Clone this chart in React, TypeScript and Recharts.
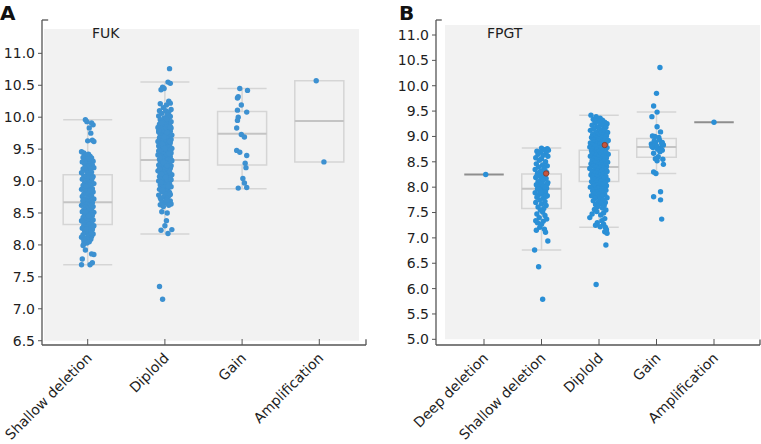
import React from 'react';
import { ComposedChart, Scatter, XAxis, YAxis, ReferenceArea, ReferenceLine } from 'recharts';

const FONT = '"DejaVu Sans", Verdana, sans-serif';

// ---------- Panel A: FUK ----------
const A_CATEGORIES = ['Shallow deletion', 'Diplold', 'Gain', 'Amplification'];
const A_TICKS = [6.5, 7.0, 7.5, 8.0, 8.5, 9.0, 9.5, 10.0, 10.5, 11.0];
const A_LOW = [7.69, 8.17, 8.88, 9.3];
const A_Q1 = [8.32, 9.0, 9.25, 9.3];
const A_MED = [8.67, 9.33, 9.74, 9.94];
const A_Q3 = [9.1, 9.68, 10.09, 10.57];
const A_HIGH = [9.96, 10.55, 10.45, 10.57];

// [jitter offset (category units), expression value]
const A_SHALLOW = [
  [-0.03, 9.96], [-0.01, 9.93], [0.05, 9.91], [0.07, 9.88], [0.02, 9.83], [0.04, 9.75], [0.06, 9.64], [0.0, 9.63], [0.08, 9.62],
  [-0.08, 9.46], [-0.05, 9.44], [0.01, 9.42], [-0.02, 9.41], [0.03, 9.39], [-0.06, 9.37], [0.05, 9.36], [-0.03, 9.34], [0.0, 9.33],
  [0.07, 9.31], [-0.07, 9.3], [0.02, 9.28], [-0.04, 9.27], [0.06, 9.25], [0.01, 9.24], [-0.01, 9.22], [0.08, 9.21], [-0.06, 9.19],
  [0.03, 9.18], [-0.02, 9.16], [0.05, 9.14], [-0.08, 9.13], [0.0, 9.12], [0.04, 9.1], [-0.05, 9.08], [0.07, 9.07], [-0.03, 9.06],
  [0.02, 9.04], [-0.07, 9.03], [0.05, 9.01], [-0.01, 9.0], [0.03, 8.98], [-0.04, 8.97], [0.08, 8.96], [0.0, 8.94], [-0.06, 8.93],
  [0.04, 8.91], [-0.02, 8.9], [0.06, 8.88], [-0.08, 8.87], [0.01, 8.86], [-0.03, 8.84], [0.07, 8.83], [0.03, 8.81], [-0.05, 8.8],
  [0.0, 8.79], [0.05, 8.77], [-0.07, 8.76], [0.02, 8.75], [-0.01, 8.73], [0.08, 8.72], [-0.04, 8.71], [0.04, 8.69], [-0.06, 8.68],
  [0.01, 8.67], [0.06, 8.66], [-0.02, 8.64], [0.03, 8.63], [-0.08, 8.62], [0.07, 8.6], [-0.03, 8.59], [0.0, 8.58], [0.05, 8.56],
  [-0.05, 8.55], [0.02, 8.54], [-0.07, 8.52], [0.08, 8.51], [-0.01, 8.5], [0.04, 8.48], [-0.04, 8.47], [0.06, 8.46], [0.0, 8.44],
  [-0.06, 8.43], [0.03, 8.42], [-0.02, 8.4], [0.07, 8.39], [-0.08, 8.38], [0.01, 8.36], [0.05, 8.35], [-0.03, 8.34], [0.02, 8.32],
  [-0.05, 8.31], [0.08, 8.3], [-0.01, 8.28], [0.04, 8.27], [-0.07, 8.26], [0.06, 8.24], [0.0, 8.23], [-0.04, 8.22], [0.03, 8.2],
  [-0.02, 8.19], [0.07, 8.17], [-0.06, 8.16], [0.01, 8.15], [0.05, 8.13], [-0.08, 8.12], [-0.03, 8.1], [0.04, 8.09], [0.0, 8.08],
  [-0.05, 8.07], [0.02, 8.05], [-0.01, 8.03],
  [0.02, 9.35], [-0.04, 9.2], [0.06, 9.05], [-0.02, 8.92], [0.03, 8.85], [-0.06, 8.7], [0.05, 8.61], [-0.03, 8.52], [0.01, 8.45],
  [-0.07, 8.37], [0.07, 8.29], [-0.02, 8.25], [0.05, 8.18], [-0.05, 8.02],
  [-0.06, 7.99], [-0.03, 7.92], [-0.07, 7.78], [0.05, 7.86], [0.08, 7.85], [-0.08, 7.69], [0.03, 7.69], [0.06, 7.72],
];

const A_DIPLOID = [
  [0.06, 10.76], [0.04, 10.55], [0.07, 10.53], [-0.03, 10.47], [-0.05, 10.43], [-0.01, 10.45],
  [0.05, 10.25], [0.07, 10.22], [-0.06, 10.21], [0.02, 10.19], [-0.02, 10.15], [0.08, 10.12], [-0.07, 10.1], [0.01, 10.1],
  [0.05, 10.08], [-0.04, 10.06], [0.03, 10.04], [-0.08, 10.02], [0.07, 10.01], [-0.01, 9.99], [0.04, 9.98],
  [-0.06, 9.96], [0.02, 9.95], [0.08, 9.93], [-0.03, 9.92], [0.05, 9.9], [-0.07, 9.89], [0.0, 9.88], [0.06, 9.87], [-0.04, 9.86],
  [0.03, 9.85], [-0.09, 9.84], [0.08, 9.83], [-0.01, 9.82], [0.04, 9.81], [-0.05, 9.8], [0.01, 9.79], [0.07, 9.78], [-0.08, 9.77],
  [-0.02, 9.76], [0.05, 9.75], [0.02, 9.74], [-0.06, 9.73], [0.09, 9.72], [-0.03, 9.71], [0.0, 9.7], [0.06, 9.69],
  [-0.07, 9.68], [0.03, 9.67], [-0.01, 9.66], [0.08, 9.65], [-0.04, 9.64], [0.05, 9.63], [-0.09, 9.62], [0.01, 9.61], [0.07, 9.6],
  [-0.05, 9.59], [0.02, 9.58], [-0.02, 9.57], [0.06, 9.56], [-0.08, 9.55], [0.04, 9.54], [0.0, 9.53], [-0.06, 9.52], [0.09, 9.51],
  [-0.03, 9.5], [0.03, 9.49], [-0.07, 9.48], [0.06, 9.47], [0.01, 9.46], [-0.04, 9.45], [0.08, 9.44], [-0.01, 9.43], [0.04, 9.42],
  [-0.09, 9.41], [0.02, 9.4], [-0.05, 9.39], [0.07, 9.38], [0.0, 9.37], [-0.03, 9.36], [0.05, 9.35], [-0.07, 9.34], [0.03, 9.33],
  [0.09, 9.32], [-0.02, 9.31], [-0.06, 9.3], [0.06, 9.29], [0.01, 9.28], [-0.04, 9.27], [0.04, 9.26], [-0.08, 9.25], [0.08, 9.24],
  [-0.01, 9.23], [0.02, 9.22], [-0.05, 9.21], [0.07, 9.2], [-0.03, 9.19], [0.0, 9.18], [0.05, 9.17], [-0.09, 9.16], [0.03, 9.15],
  [-0.02, 9.14], [0.06, 9.13], [-0.06, 9.12], [0.01, 9.11], [0.09, 9.1], [-0.04, 9.09], [0.04, 9.08], [-0.07, 9.07], [0.02, 9.06],
  [-0.01, 9.05], [0.07, 9.04], [-0.05, 9.03], [0.0, 9.02], [0.05, 9.01], [-0.08, 9.0], [0.03, 8.99],
  [-0.03, 8.97], [0.06, 8.96], [-0.06, 8.94], [0.01, 8.93], [0.08, 8.91], [-0.02, 8.9], [0.04, 8.88], [-0.07, 8.87], [0.02, 8.85],
  [-0.04, 8.83], [0.06, 8.82], [0.0, 8.8], [-0.08, 8.78], [0.05, 8.77], [-0.01, 8.75], [0.03, 8.73], [-0.05, 8.71], [0.07, 8.69],
  [-0.03, 8.67], [0.01, 8.66], [0.08, 8.64], [-0.06, 8.63], [0.04, 8.65],
  [0.02, 9.97], [-0.05, 9.91], [0.07, 9.85], [-0.08, 9.79], [0.03, 9.76], [-0.01, 9.69], [0.06, 9.62], [-0.03, 9.58], [0.0, 9.51],
  [-0.08, 9.47], [0.05, 9.43], [-0.06, 9.37], [0.08, 9.33], [-0.02, 9.29], [0.03, 9.24], [-0.07, 9.19], [0.06, 9.15], [-0.04, 9.11],
  [0.01, 9.06], [0.08, 9.02], [-0.05, 8.98], [0.04, 8.92], [-0.03, 8.86], [0.07, 8.79], [-0.06, 8.74], [0.02, 8.7],
  [-0.02, 8.6], [0.05, 8.62], [-0.04, 8.52], [0.03, 8.5], [0.02, 8.38], [0.0, 8.3], [-0.05, 8.23], [0.09, 8.24], [0.04, 8.18],
  [-0.07, 7.35], [-0.03, 7.15],
];

const A_GAIN = [
  [-0.03, 10.45], [0.07, 10.42], [-0.05, 10.32], [-0.06, 10.3], [-0.01, 10.19], [-0.06, 10.11], [0.06, 10.08], [-0.05, 10.0],
  [-0.06, 9.95], [-0.07, 9.83], [-0.01, 9.73], [0.03, 9.69], [-0.07, 9.48], [-0.03, 9.45], [0.06, 9.4], [0.04, 9.28], [0.05, 9.21],
  [0.01, 9.04], [0.03, 8.97], [-0.05, 8.89], [0.06, 8.9],
];

const A_AMP = [[-0.04, 10.57], [0.06, 9.3]];

// ---------- Panel B: FPGT ----------
const B_CATEGORIES = ['Deep deletion', 'Shallow deletion', 'Diplold', 'Gain', 'Amplification'];
const B_TICKS = [5.0, 5.5, 6.0, 6.5, 7.0, 7.5, 8.0, 8.5, 9.0, 9.5, 10.0, 10.5, 11.0];
const B_LOW = [8.25, 6.76, 7.21, 8.27, 9.28];
const B_Q1 = [8.25, 7.58, 8.11, 8.59, 9.28];
const B_MED = [8.25, 7.97, 8.4, 8.79, 9.28];
const B_Q3 = [8.25, 8.26, 8.73, 8.96, 9.28];
const B_HIGH = [8.25, 8.77, 9.42, 9.48, 9.28];

const B_DEEP = [[0.03, 8.25]];

const B_SHALLOW = [
  [0.0, 8.77], [0.1, 8.76], [0.05, 8.74], [-0.08, 8.71], [0.12, 8.73], [-0.02, 8.69], [0.08, 8.68], [-0.06, 8.65], [0.03, 8.63],
  [0.11, 8.61], [-0.1, 8.58], [0.0, 8.56], [-0.04, 8.53], [0.07, 8.5], [-0.09, 8.46], [0.02, 8.44], [0.1, 8.42], [-0.05, 8.4],
  [0.04, 8.37], [-0.11, 8.35], [0.06, 8.33], [-0.02, 8.31], [0.09, 8.29], [-0.07, 8.27], [0.01, 8.25], [-0.03, 8.23], [0.05, 8.21],
  [-0.1, 8.19], [0.08, 8.17], [-0.01, 8.15], [0.03, 8.13], [-0.06, 8.11], [0.11, 8.09], [0.0, 8.07], [-0.09, 8.05], [0.06, 8.03],
  [-0.04, 8.01], [0.02, 7.99], [0.09, 7.98], [-0.07, 7.97], [0.04, 7.95], [-0.02, 7.93], [0.07, 7.91], [-0.11, 7.89], [0.01, 7.87],
  [-0.05, 7.85], [0.1, 7.83], [-0.08, 7.8], [0.03, 7.78], [-0.03, 7.75], [0.06, 7.72], [-0.1, 7.7], [0.0, 7.67], [0.08, 7.64],
  [-0.06, 7.61], [0.04, 7.58], [-0.02, 7.55], [0.02, 7.51], [-0.08, 7.47], [0.06, 7.44], [-0.04, 7.4], [0.09, 7.37], [-0.1, 7.34],
  [0.03, 7.33], [-0.07, 7.3], [0.0, 7.27], [-0.03, 7.21], [0.05, 7.17], [-0.09, 7.15], [0.07, 7.11],
  [0.05, 8.26], [-0.08, 8.22], [0.1, 8.06], [-0.05, 7.96], [0.07, 8.0], [-0.01, 7.9], [0.08, 7.82],
  [0.11, 6.94], [-0.12, 6.76], [-0.05, 6.43], [0.02, 5.79],
];

const B_DIPLOID = [
  [-0.14, 9.42], [-0.05, 9.39], [0.02, 9.36], [-0.1, 9.34], [0.06, 9.32], [-0.02, 9.3], [0.1, 9.28], [-0.07, 9.27], [0.14, 9.25],
  [0.03, 9.24], [-0.12, 9.22], [0.08, 9.21], [-0.04, 9.19], [0.12, 9.18], [0.0, 9.16], [-0.09, 9.15], [0.05, 9.13], [-0.15, 9.12],
  [0.1, 9.11], [-0.02, 9.09], [0.15, 9.08], [-0.06, 9.07], [0.03, 9.06], [-0.11, 9.04], [0.08, 9.03], [-0.03, 9.02], [0.13, 9.01],
  [-0.08, 9.0], [0.01, 8.99], [-0.13, 8.98], [0.06, 8.97], [-0.05, 8.96], [0.11, 8.95], [0.0, 8.94], [-0.1, 8.93], [0.16, 8.92],
  [-0.01, 8.91], [0.07, 8.9], [-0.07, 8.89], [0.04, 8.88], [-0.15, 8.87], [0.12, 8.86], [-0.03, 8.85], [0.02, 8.84], [-0.11, 8.83],
  [0.09, 8.82], [-0.06, 8.81], [0.05, 8.8], [-0.16, 8.79], [0.14, 8.78], [0.0, 8.77], [-0.09, 8.76], [0.1, 8.75], [-0.04, 8.74],
  [0.03, 8.73], [-0.13, 8.72], [0.07, 8.71], [-0.01, 8.7], [0.12, 8.69], [-0.08, 8.68], [0.04, 8.67], [-0.12, 8.66], [0.16, 8.65],
  [0.01, 8.64], [-0.05, 8.63], [0.09, 8.62], [-0.15, 8.61], [0.06, 8.6], [-0.02, 8.59], [0.13, 8.58], [-0.09, 8.57], [0.02, 8.56],
  [-0.06, 8.55], [0.11, 8.54], [0.0, 8.53], [-0.12, 8.52], [0.08, 8.51], [-0.03, 8.5], [0.15, 8.49], [-0.07, 8.48], [0.04, 8.47],
  [-0.14, 8.46], [0.1, 8.45], [-0.01, 8.44], [0.06, 8.43], [-0.1, 8.42], [0.13, 8.41], [0.02, 8.4], [-0.05, 8.39], [0.08, 8.38],
  [-0.16, 8.37], [0.0, 8.36], [0.12, 8.35], [-0.08, 8.34], [0.05, 8.33], [-0.03, 8.32], [0.14, 8.31], [-0.12, 8.3], [0.03, 8.29],
  [-0.06, 8.28], [0.1, 8.27], [-0.01, 8.26], [0.07, 8.25], [-0.14, 8.24], [0.01, 8.23], [-0.09, 8.22], [0.12, 8.21], [-0.04, 8.2],
  [0.05, 8.19], [-0.11, 8.18], [0.09, 8.17], [0.0, 8.16], [-0.07, 8.15], [0.15, 8.14], [-0.02, 8.13], [0.04, 8.12], [-0.13, 8.11],
  [0.08, 8.1], [-0.05, 8.09], [0.11, 8.08], [0.02, 8.07], [-0.1, 8.06], [0.06, 8.05], [-0.03, 8.04], [0.13, 8.03], [-0.08, 8.02],
  [0.01, 8.01], [-0.15, 8.0], [0.09, 7.99], [-0.01, 7.98], [0.05, 7.97], [-0.06, 7.95], [0.12, 7.94], [-0.11, 7.93], [0.03, 7.92],
  [-0.03, 7.9], [0.08, 7.89], [-0.09, 7.87], [0.0, 7.86], [0.1, 7.85], [-0.13, 7.83], [0.05, 7.82], [-0.04, 7.8], [0.14, 7.79],
  [-0.07, 7.78], [0.02, 7.76], [0.07, 7.75], [-0.1, 7.73], [-0.01, 7.71], [0.11, 7.7], [0.04, 7.68], [-0.06, 7.66], [0.09, 7.64],
  [-0.02, 7.62], [0.06, 7.59], [-0.08, 7.56], [0.12, 7.55], [-0.04, 7.52], [0.08, 7.49], [-0.12, 7.47], [0.03, 7.45], [-0.16, 7.4],
  [0.1, 7.38], [0.05, 7.34], [-0.03, 7.3], [0.08, 7.27], [-0.06, 7.25], [0.02, 7.22], [0.11, 7.21], [0.13, 7.16], [0.1, 7.12],
  [0.14, 7.09], [0.12, 6.86], [-0.05, 6.08],
];

const B_GAIN = [
  [0.06, 10.36], [0.0, 9.85], [-0.05, 9.6], [0.01, 9.48], [-0.08, 9.39], [0.01, 9.19], [0.07, 9.09], [-0.07, 9.01], [-0.03, 9.0],
  [0.04, 8.98], [-0.09, 8.85], [-0.02, 8.88], [0.1, 8.88], [0.12, 8.83], [0.07, 8.78], [-0.06, 8.78], [0.02, 8.75], [0.1, 8.73],
  [-0.05, 8.67], [0.03, 8.6], [0.11, 8.55], [-0.02, 8.56], [0.01, 8.52], [0.12, 8.45], [-0.05, 8.3], [-0.01, 8.27], [0.07, 7.91],
  [-0.05, 7.81], [0.07, 7.75], [0.09, 7.37], [0.05, 8.93], [-0.04, 8.91], [0.09, 8.86], [0.0, 8.82], [0.06, 8.7], [-0.08, 8.8],
];

const B_AMP = [[0.0, 9.28]];

// highlighted (red) samples: [category index, offset, value]
const B_HIGHLIGHT = [[1, 0.08, 8.27], [2, 0.1, 8.83]];

type Pair = number[];

const toPoints = (groups: Pair[][]) =>
  groups.flatMap((g, i) => g.map(([o, v]) => ({ x: i + o, y: v })));

const AXIS = '#555555';
const TEXT = '#1e1e1e';
const BOX = '#d5d5d5';
const MEDIAN = '#c4c4c4';
const BG = '#f2f2f2';

const XTick = (props: any) => {
  const { x, y, payload, cats } = props;
  const label = cats[Math.round(payload.value)];
  return (
    <g>
      <line x1={x} x2={x} y1={y} y2={y - 6} stroke={AXIS} strokeWidth={1} />
      <text
        transform={`translate(${x + 5},${y + 14}) rotate(-45)`}
        textAnchor="end"
        fontSize={14}
        fill={TEXT}
        fontFamily={FONT}
      >
        {label}
      </text>
    </g>
  );
};

const dot = (color: string, stroke?: string) => (p: any) => (
  <circle cx={p.cx} cy={p.cy} r={2.7} fill={color} stroke={stroke || 'none'} strokeWidth={stroke ? 0.8 : 0} />
);

function Panel(props: any) {
  const {
    width, cats, ticks, xDomain, yDomain, bg, low, q1, med, q3, high, groups, highlight,
    boxW, yAxisWidth, marginRight, color, pxX, pxY,
  } = props;
  const points = toPoints(groups);
  const hl = (highlight || []).map(([i, o, v]: number[]) => ({ x: i + o, y: v }));
  const hw = boxW / 2;
  const els: any[] = [];
  cats.forEach((_: string, i: number) => {
    if (q1[i] === q3[i] && low[i] === high[i]) {
      els.push(
        <ReferenceLine key={`s${i}`} segment={[{ x: i - hw, y: med[i] }, { x: i + hw, y: med[i] }]} stroke="#8e8e8e" strokeWidth={2} />
      );
      return;
    }
    if (high[i] > q3[i]) {
      els.push(<ReferenceLine key={`wu${i}`} segment={[{ x: i, y: q3[i] }, { x: i, y: high[i] }]} stroke={BOX} strokeWidth={1.5} />);
      els.push(<ReferenceLine key={`cu${i}`} segment={[{ x: i - hw, y: high[i] }, { x: i + hw, y: high[i] }]} stroke={BOX} strokeWidth={1.5} />);
    }
    if (low[i] < q1[i]) {
      els.push(<ReferenceLine key={`wl${i}`} segment={[{ x: i, y: low[i] }, { x: i, y: q1[i] }]} stroke={BOX} strokeWidth={1.5} />);
      els.push(<ReferenceLine key={`cl${i}`} segment={[{ x: i - hw, y: low[i] }, { x: i + hw, y: low[i] }]} stroke={BOX} strokeWidth={1.5} />);
    }
    els.push(
      <ReferenceArea key={`b${i}`} x1={i - hw} x2={i + hw} y1={q1[i]} y2={q3[i]} fill="none" fillOpacity={0} stroke={BOX} strokeWidth={1.5} />
    );
    els.push(
      <ReferenceLine key={`m${i}`} segment={[{ x: i - hw, y: med[i] }, { x: i + hw, y: med[i] }]} stroke={MEDIAN} strokeWidth={2} />
    );
  });

  return (
    <ComposedChart
      width={width}
      height={444}
      margin={{ top: 20, right: marginRight, bottom: 0, left: 0 }}
      style={{ fontFamily: FONT }}
    >
      <XAxis
        type="number"
        dataKey="x"
        domain={xDomain}
        ticks={cats.map((_: string, i: number) => i)}
        interval={0}
        allowDataOverflow
        height={99}
        tickSize={0}
        tickMargin={0}
        tickLine={false}
        axisLine={{ stroke: AXIS, strokeWidth: 1.3 }}
        tick={(p: any) => <XTick {...p} cats={cats} />}
      />
      <YAxis
        type="number"
        dataKey="y"
        domain={yDomain}
        ticks={ticks}
        interval={0}
        allowDataOverflow
        width={yAxisWidth}
        tickSize={4}
        tickMargin={3}
        tickFormatter={(v: number) => v.toFixed(1)}
        tick={{ fontSize: 14, fill: TEXT, fontFamily: FONT }}
        tickLine={{ stroke: AXIS }}
        axisLine={{ stroke: AXIS, strokeWidth: 1.3 }}
      />
      <ReferenceArea x1={bg.x1} x2={bg.x2} y1={bg.y1} y2={bg.y2} fill={BG} fillOpacity={1} stroke="none" />
      {els}
      <ReferenceLine segment={[{ x: xDomain[0], y: yDomain[1] }, { x: xDomain[0] + pxX, y: yDomain[1] }]} stroke={AXIS} strokeWidth={1.3} />
      <ReferenceLine segment={[{ x: xDomain[1], y: yDomain[0] }, { x: xDomain[1], y: yDomain[0] + pxY }]} stroke={AXIS} strokeWidth={1.3} />
      <Scatter data={points} isAnimationActive={false} shape={dot(color)} />
      {hl.length > 0 && <Scatter data={hl} isAnimationActive={false} shape={dot('#c8553d', '#7a3a2a')} />}
    </ComposedChart>
  );
}

export default function App() {
  return (
    <div style={{ position: 'absolute', left: 0, top: 0, width: 761, height: 444, background: '#fff', overflow: 'hidden' }}>
      <div style={{ position: 'absolute', left: 0, top: 0 }}>
        <Panel
          width={380}
          cats={A_CATEGORIES}
          ticks={A_TICKS}
          xDomain={[-0.592, 3.605]}
          yDomain={[6.433, 11.522]}
          bg={{ x1: -0.566, x2: 3.514, y1: 6.5, y2: 11.38 }}
          low={A_LOW}
          q1={A_Q1}
          med={A_MED}
          q3={A_Q3}
          high={A_HIGH}
          groups={[A_SHALLOW, A_DIPLOID, A_GAIN, A_AMP]}
          boxW={0.635}
          yAxisWidth={42}
          marginRight={14}
          color="#3d91d1"
          pxX={0.08}
          pxY={0.09}
        />
      </div>
      <div style={{ position: 'absolute', left: 380, top: 0 }}>
        <Panel
          width={381}
          cats={B_CATEGORIES}
          ticks={B_TICKS}
          xDomain={[-0.835, 4.8]}
          yDomain={[4.888, 11.296]}
          bg={{ x1: -0.678, x2: 4.8, y1: 5.0, y2: 11.197 }}
          low={B_LOW}
          q1={B_Q1}
          med={B_MED}
          q3={B_Q3}
          high={B_HIGH}
          groups={[B_DEEP, B_SHALLOW, B_DIPLOID, B_GAIN, B_AMP]}
          highlight={B_HIGHLIGHT}
          boxW={0.687}
          yAxisWidth={56}
          marginRight={1}
          color="#2a8fd6"
          pxX={0.1}
          pxY={0.11}
        />
      </div>
      <svg width={761} height={444} style={{ position: 'absolute', left: 0, top: 0, pointerEvents: 'none' }}>
        <text x={0} y={20} fontSize={20} fontWeight="bold" fill="#111" fontFamily={FONT}>A</text>
        <text x={399} y={20} fontSize={20} fontWeight="bold" fill="#111" fontFamily={FONT}>B</text>
        <text x={92} y={38} fontSize={14} fill={TEXT} fontFamily={FONT}>FUK</text>
        <text x={487} y={38} fontSize={14} fill={TEXT} fontFamily={FONT}>FPGT</text>
      </svg>
    </div>
  );
}
